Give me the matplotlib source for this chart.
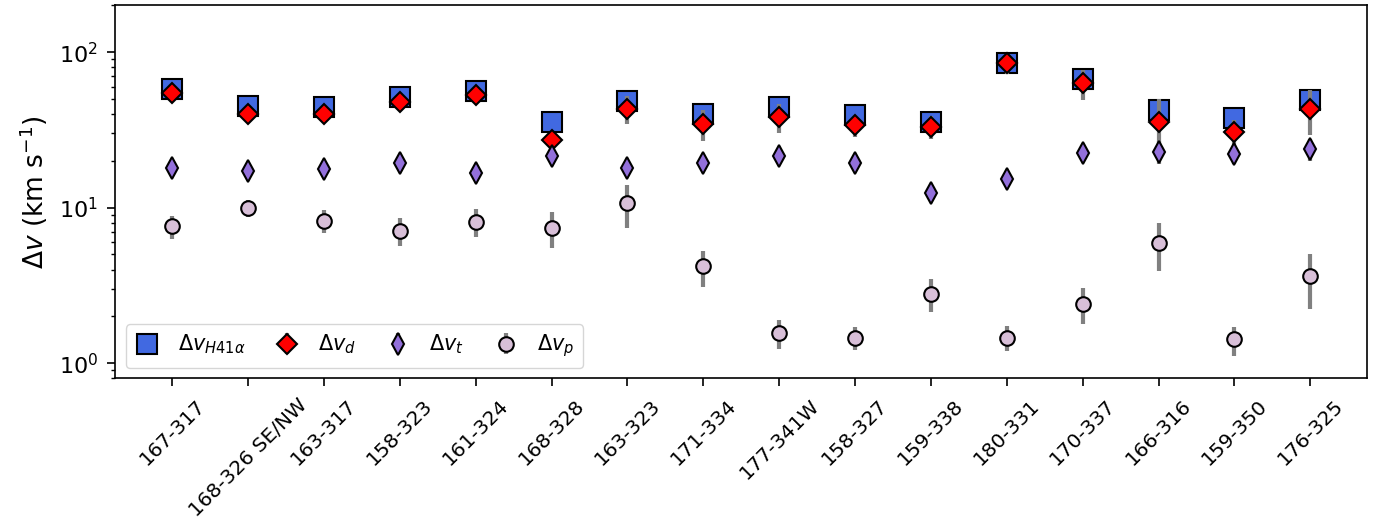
import matplotlib
matplotlib.use("Agg")
import matplotlib.pyplot as plt
import numpy as np

# region names
regions = ['167-317', '168-326 SE/NW', '163-317', '158-323', '161-324', '168-328',
           '163-323', '171-334', '177-341W', '158-327', '159-338', '180-331',
           '170-337', '166-316', '159-350', '176-325']

# line widths (km/s)
dv_h41a = [57.7, 45.1, 44.6, 51.7, 56.2, 35.7, 48.5, 40.2, 44.4, 39.4, 35.7, 85.4, 67.4, 42.5, 37.6, 49.2]

dv_d = [54.4, 40.2, 39.8, 48.0, 53.0, 27.3, 43.3, 34.7, 38.3, 34.0, 33.2, 84.6, 63.0, 35.7, 30.7, 43.3]
dv_d_err = [4, 3, 3, 4, 4, 2, 9, 8, 8, 5.5, 5.6, 12, 14, 14, 6, 14]

dv_t = [18.0, 17.3, 17.7, 19.3, 16.8, 21.5, 18.1, 19.3, 21.5, 19.5, 12.5, 15.3, 22.6, 22.9, 22.1, 23.8]
dv_t_err = [1.5, 1.5, 1.5, 1.5, 1.5, 1.5, 1.5, 1.5, 1.5, 1.5, 1.0, 1.2, 1.5, 3.8, 3.0, 3.9]

dv_p = [7.59, 9.95, 8.26, 7.12, 8.13, 7.41, 10.7, 4.2, 1.57, 1.46, 2.80, 1.46, 2.41, 5.94, 1.42, 3.63]
dv_p_err = [1.3, 1.3, 1.4, 1.45, 1.7, 1.9, 3.3, 1.1, 0.33, 0.25, 0.68, 0.27, 0.62, 2.05, 0.3, 1.4]

x = np.arange(len(regions))

fig = plt.figure(figsize=(13.74, 5.29), dpi=100)
ax = fig.add_subplot(111)
fig.subplots_adjust(left=0.084, right=0.995, top=0.99, bottom=0.285)

ax.errorbar(x, dv_h41a, fmt='s', ms=15, mfc='royalblue', mec='k', mew=1.5,
            label=r'$\Delta v_{H41\alpha}$', zorder=3)
ax.errorbar(x, dv_d, yerr=dv_d_err, fmt='D', ms=10.5, mfc='red', mec='k', mew=1.5,
            ecolor='grey', elinewidth=3, label=r'$\Delta v_d$', zorder=4)
ax.errorbar(x, dv_t, yerr=dv_t_err, fmt='d', ms=11, mfc='mediumpurple', mec='k', mew=1.5,
            ecolor='grey', elinewidth=3, label=r'$\Delta v_t$', zorder=4)
ax.errorbar(x, dv_p, yerr=dv_p_err, fmt='o', ms=10.5, mfc='thistle', mec='k', mew=1.5,
            ecolor='grey', elinewidth=3, label=r'$\Delta v_p$', zorder=4)

ax.set_yscale('log')
ax.set_ylim(0.8, 200)

ax.tick_params(which='major', length=5.5, width=1.2, pad=7)
ax.tick_params(which='minor', length=3.1, width=1.0)
ax.tick_params(axis='y', labelsize=16)
ax.tick_params(axis='x', labelsize=14.5)
for s in ax.spines.values():
    s.set_linewidth(1.2)

ax.set_xticks(x)
ax.set_xticklabels(regions, rotation=45, fontsize=14.5)
ax.set_ylabel(r'$\Delta v$ (km s$^{-1}$)', fontsize=19, labelpad=6)
ax.legend(loc='lower left', ncol=4, fontsize=15, handlelength=1.2,
          handletextpad=0.9, columnspacing=1.4)

plt.savefig('out.png', dpi=100)
